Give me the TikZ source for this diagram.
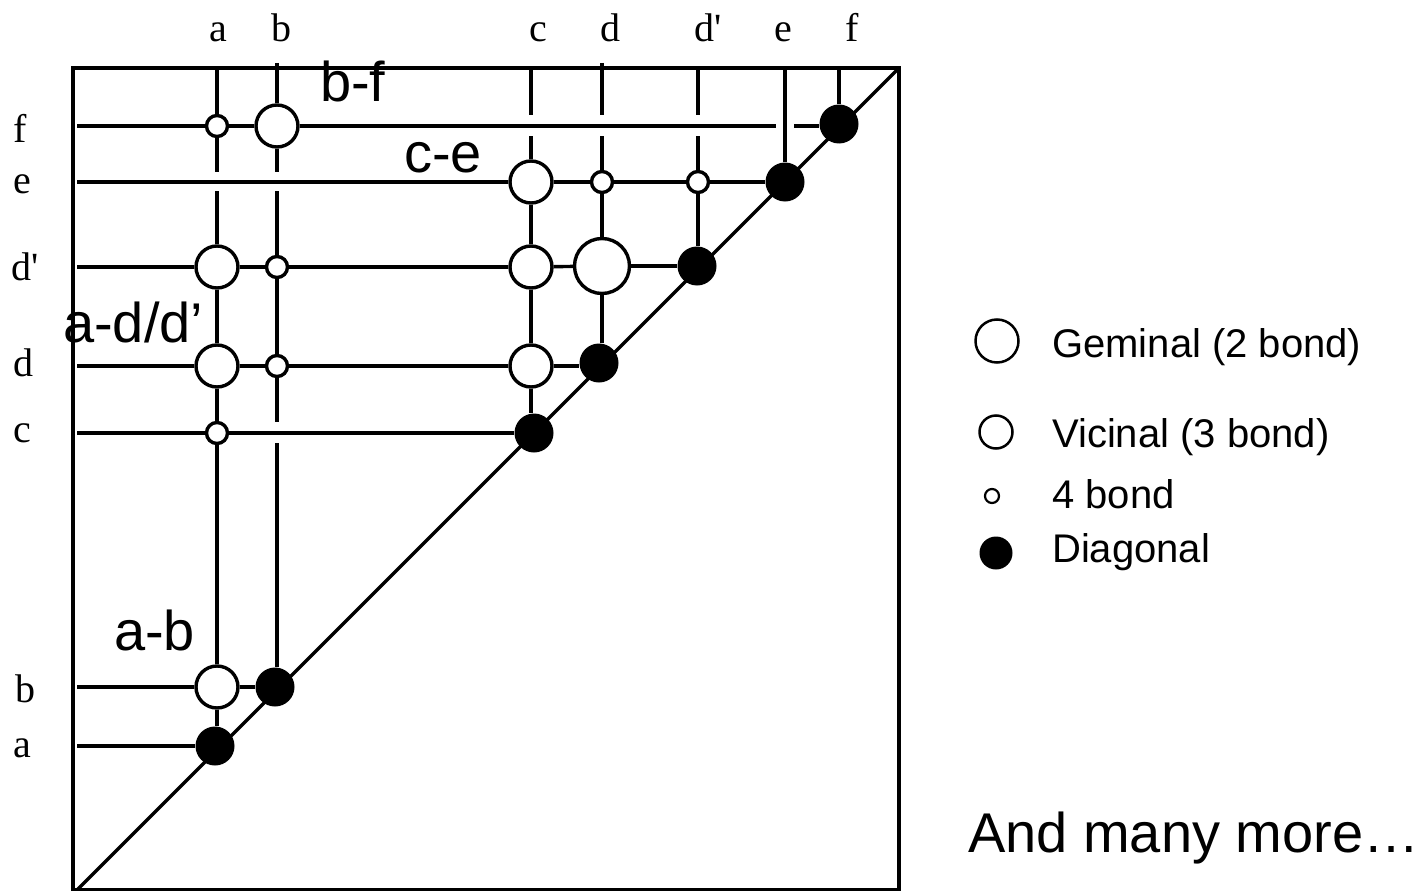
\documentclass[tikz,border=0pt]{standalone}
\usepackage{fontspec}
\setmainfont{Liberation Sans}
\newfontfamily\lblserif{Liberation Serif}[Ligatures=TeXOff]
\begin{document}
\begin{tikzpicture}[x=1pt,y=-1pt,
  ln/.style={line width=3.4pt},
  smallc/.style={circle,draw,line width=3.4pt,fill=white,inner sep=0pt,minimum size=21pt},
  bigc/.style={circle,draw,line width=3.4pt,fill=white,inner sep=0pt,minimum size=42pt},
  hugec/.style={circle,draw,line width=3.4pt,fill=white,inner sep=0pt,minimum size=55pt},
  diagc/.style={circle,fill=black,inner sep=0pt,minimum size=39pt},
  axlab/.style={anchor=base,inner sep=0pt,font=\lblserif\fontsize{40}{48}\selectfont},
  pairlab/.style={anchor=base west,inner sep=0pt,font=\fontsize{56}{66}\selectfont},
  legtext/.style={anchor=base west,inner sep=0pt,font=\fontsize{40}{48}\selectfont},
  legc/.style={circle,draw,line width=2.5pt,fill=white,inner sep=0pt}]
\useasboundingbox (0,0) rectangle (1427,891);

% frame and diagonal
\coordinate (fr-tl) at (73,68);
\coordinate (fr-br) at (899,890);
\coordinate (fr-bl) at (77,890);
\coordinate (fr-tr) at (899,68);
\draw[ln] (fr-tl) rectangle (fr-br);
\draw[ln] (fr-bl) -- (fr-tr);

% cross peaks
\node[smallc] (fa)  at (217,126) {};
\node[bigc]   (fb)  at (277,126) {};
\node[bigc]   (ec)  at (531,182) {};
\node[smallc] (ed)  at (602,182) {};
\node[smallc] (edp) at (698,182) {};
\node[bigc]   (dpa) at (217,267) {};
\node[smallc] (dpb) at (277,267) {};
\node[bigc]   (dpc) at (531,267) {};
\node[hugec]  (dpd) at (602,266) {};
\node[bigc]   (da)  at (217,366) {};
\node[smallc] (db)  at (277,366) {};
\node[bigc]   (dc)  at (531,366) {};
\node[smallc] (ca)  at (217,433) {};
\node[bigc]   (ba)  at (217,687) {};

% diagonal peaks
\node[diagc] (Ea)  at (215,746) {};
\node[diagc] (Eb)  at (275,687) {};
\node[diagc] (Ec)  at (534,433) {};
\node[diagc] (Ed)  at (599,363) {};
\node[diagc] (Edp) at (697,266) {};
\node[diagc] (Ee)  at (785,182) {};
\node[diagc] (Ef)  at (839,124) {};

% line ends
\coordinate (vt-a)  at (217,70);
\coordinate (vt-b)  at (277,63);
\coordinate (vt-c)  at (531,70);
\coordinate (vt-d)  at (602,63);
\coordinate (vt-dp) at (698,70);
\coordinate (vt-e)  at (785,70);
\coordinate (vt-f)  at (839,70);
\coordinate (hl-f)  at (77,126);
\coordinate (hl-e)  at (77,182);
\coordinate (hl-dp) at (77,267);
\coordinate (hl-d)  at (77,366);
\coordinate (hl-c)  at (77,433);
\coordinate (hl-b)  at (77,687);
\coordinate (hl-a)  at (77,746);

% crossing gaps
\coordinate (ga1) at (217,172);  \coordinate (ga2) at (217,191);
\coordinate (gb1) at (277,172);  \coordinate (gb2) at (277,191);
\coordinate (gb3) at (277,422);  \coordinate (gb4) at (277,443);
\coordinate (gc1) at (531,115);  \coordinate (gc2) at (531,136);
\coordinate (gd1) at (602,115);  \coordinate (gd2) at (602,136);
\coordinate (gp1) at (698,115);  \coordinate (gp2) at (698,136);
\coordinate (gf1) at (776,126);  \coordinate (gf2) at (794,126);

% vertical traces
\draw[ln] (vt-a) -- (fa);  \draw[ln] (fa) -- (ga1);  \draw[ln] (ga2) -- (dpa);
\draw[ln] (dpa) -- (da);   \draw[ln] (da) -- (ca);   \draw[ln] (ca) -- (ba);
\draw[ln] (ba) -- (ba |- Ea.north);
\draw[ln] (vt-b) -- (fb);  \draw[ln] (fb) -- (gb1);  \draw[ln] (gb2) -- (dpb);
\draw[ln] (dpb) -- (db);   \draw[ln] (db) -- (gb3);  \draw[ln] (gb4) -- (gb4 |- Eb.north);
\draw[ln] (vt-c) -- (gc1); \draw[ln] (gc2) -- (ec);  \draw[ln] (ec) -- (dpc);
\draw[ln] (dpc) -- (dc);   \draw[ln] (dc) -- (dc |- Ec.north);
\draw[ln] (vt-d) -- (gd1); \draw[ln] (gd2) -- (ed);  \draw[ln] (ed) -- (dpd);
\draw[ln] (dpd) -- (dpd.south |- Ed.north);
\draw[ln] (vt-dp) -- (gp1); \draw[ln] (gp2) -- (edp);
\draw[ln] (edp) -- (edp |- Edp.north);
\draw[ln] (vt-e) -- (Ee);
\draw[ln] (vt-f) -- (Ef);

% horizontal traces
\draw[ln] (hl-f) -- (fa);  \draw[ln] (fa) -- (fb);  \draw[ln] (fb) -- (gf1);
\draw[ln] (gf2) -- (gf2 -| Ef.west);
\draw[ln] (hl-e) -- (ec);  \draw[ln] (ec) -- (ed);  \draw[ln] (ed) -- (edp);
\draw[ln] (edp) -- (Ee);
\draw[ln] (hl-dp) -- (dpa); \draw[ln] (dpa) -- (dpb); \draw[ln] (dpb) -- (dpc);
\draw[ln] (dpc) -- (dpd);   \draw[ln] (dpd) -- (dpd.east -| Edp.west);
\draw[ln] (hl-d) -- (da);  \draw[ln] (da) -- (db);  \draw[ln] (db) -- (dc);
\draw[ln] (dc) -- (dc -| Ed.west);
\draw[ln] (hl-c) -- (ca);  \draw[ln] (ca) -- (Ec);
\draw[ln] (hl-b) -- (ba);  \draw[ln] (ba) -- (Eb);
\draw[ln] (hl-a) -- (Ea);

% axis labels
\node[axlab] (lab-ta)  at (218,42) {a};
\node[axlab] (lab-tb)  at (281,42) {b};
\node[axlab] (lab-tc)  at (538,42) {c};
\node[axlab] (lab-td)  at (610,42) {d};
\node[axlab] (lab-tdp) at (708,42) {d'};
\node[axlab] (lab-te)  at (783,42) {e};
\node[axlab] (lab-tf)  at (852,42) {f};
\node[axlab] (lab-lf)  at (20,142) {f};
\node[axlab] (lab-le)  at (22,193) {e};
\node[axlab] (lab-ldp) at (25,280) {d'};
\node[axlab] (lab-ld)  at (23,376) {d};
\node[axlab] (lab-lc)  at (22,442) {c};
\node[axlab] (lab-lb)  at (25,702) {b};
\node[axlab] (lab-la)  at (22,757) {a};

% pair labels
\node[pairlab] (pl-bf) at (320,102) {b-f};
\node[pairlab] (pl-ce) at (404,172) {c-e};
\node[pairlab] (pl-ad) at (63,342) {a-d/d’};
\node[pairlab] (pl-ab) at (114,650) {a-b};

% legend
\node[legc,minimum size=43pt] (lg-gem) at (997,341) {};
\node[legc,minimum size=33pt] (lg-vic) at (996,432) {};
\node[legc,line width=2.2pt,minimum size=14pt] (lg-four) at (992,496) {};
\node[diagc,minimum size=33pt] (lg-diag) at (996,553) {};
\node[legtext] (lt-gem)  at (1052,357) {Geminal (2 bond)};
\node[legtext] (lt-vic)  at (1052,447) {Vicinal (3 bond)};
\node[legtext] (lt-four) at (1052,508) {4 bond};
\node[legtext] (lt-diag) at (1052,562) {Diagonal};

\node[anchor=base west,inner sep=0pt,font=\fontsize{56}{66}\selectfont] (more) at (968,852) {And many more…};
\end{tikzpicture}
\end{document}
